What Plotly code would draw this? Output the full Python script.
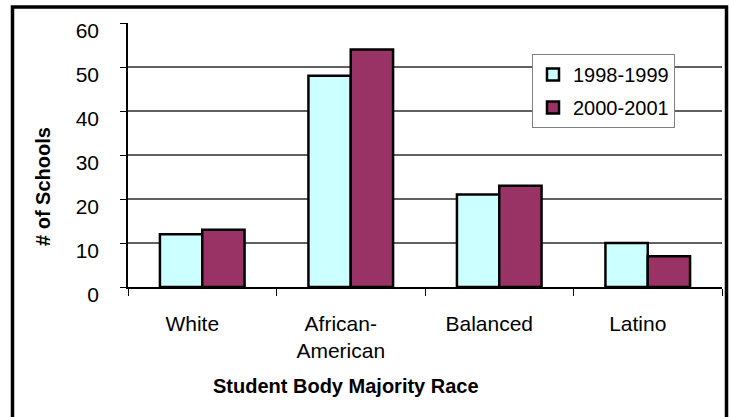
import plotly.graph_objects as go

# ---- data ----
categories = ["White", "African-<br>American", "Balanced", "Latino"]
series_names = ["1998-1999", "2000-2001"]
values_1998 = [12, 48, 21, 10]
values_2000 = [13, 54, 23, 7]
y_ticks = [0, 10, 20, 30, 40, 50, 60]

# ---- layout geometry (pixels) ----
W, H = 730, 417
PL, PR, PT, PB = 128, 722, 23, 287


def px_x(p):
    return (p - PL) / (PR - PL)


def px_y(p):
    return (PB - p) / (PB - PT)


FONT = "Liberation Sans, Arial, sans-serif"
colors = ["#CCFFFF", "#993366"]

fig = go.Figure()
for name, vals, col in zip(series_names, [values_1998, values_2000], colors):
    fig.add_trace(go.Bar(
        x=categories, y=vals, name=name, legendgroup=name,
        marker=dict(color=col, line=dict(color="black", width=2.5)),
    ))

fig.update_layout(
    width=W, height=H,
    margin=dict(l=PL, r=W - PR, t=PT, b=H - PB),
    paper_bgcolor="white", plot_bgcolor="white",
    barmode="group", bargap=0.43, bargroupgap=0,
    font=dict(family=FONT, size=20, color="black"),
    showlegend=True,
    legend=dict(
        x=px_x(532), y=px_y(54), xanchor="left", yanchor="top",
        bgcolor="white", bordercolor="#808080", borderwidth=1,
        font=dict(family=FONT, size=20, color="black"),
        itemwidth=30, traceorder="grouped", tracegroupgap=4,
    ),
    xaxis=dict(
        type="category", showgrid=False, showline=True, linecolor="black", linewidth=1.5,
        ticks="outside", ticklen=7, tickcolor="black", tickwidth=1, tickson="boundaries",
        ticklabelshift=-10, ticklabelstandoff=17,
        tickfont=dict(family=FONT, size=21, color="black"),
    ),
    yaxis=dict(
        range=[0, 60], tickvals=y_ticks, showgrid=True, gridcolor="#606060", gridwidth=1.5,
        showline=True, linecolor="black", linewidth=1.5, zeroline=False,
        ticks="outside", ticklen=6, tickcolor="black", tickwidth=1,
        ticklabelshift=8, ticklabelstandoff=17,
        tickfont=dict(family=FONT, size=21, color="black"),
    ),
    shapes=[
        dict(type="rect", xref="paper", yref="paper",
             x0=px_x(12.5), x1=px_x(726.5), y0=px_y(430), y1=px_y(7),
             line=dict(color="black", width=3.5), fillcolor="rgba(0,0,0,0)", layer="above"),
    ],
    annotations=[
        dict(text="<b># of Schools</b>", xref="paper", yref="paper",
             x=px_x(43), y=px_y(187), textangle=-90, showarrow=False,
             xanchor="center", yanchor="middle", font=dict(family=FONT, size=20)),
        dict(text="<b>Student Body Majority Race</b>", xref="paper", yref="paper",
             x=px_x(346), y=px_y(386), showarrow=False,
             xanchor="center", yanchor="middle", font=dict(family=FONT, size=20)),
        dict(text="y", xref="paper", yref="paper",
             x=px_x(355), y=px_y(-13), showarrow=False,
             xanchor="center", yanchor="middle",
             font=dict(family="Liberation Serif, Times New Roman, serif", size=22,
                       weight="bold", style="italic")),
    ],
)

fig.write_html("out.html")
